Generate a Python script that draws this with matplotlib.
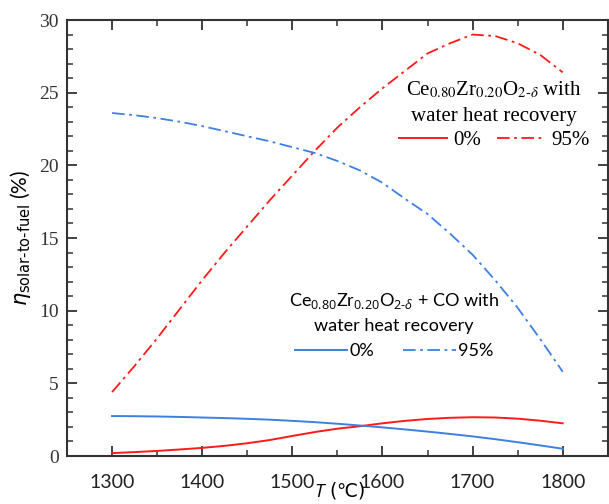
import matplotlib
matplotlib.use("Agg")
import matplotlib.pyplot as plt
from matplotlib.lines import Line2D
from matplotlib.ticker import MultipleLocator

# ---- data ----
T = [1300, 1325, 1350, 1375, 1400, 1425, 1450, 1475, 1500, 1525, 1550,
     1575, 1600, 1625, 1650, 1675, 1700, 1725, 1750, 1775, 1800]
ce_0 = [0.2, 0.27, 0.35, 0.45, 0.56, 0.7, 0.88, 1.1, 1.38, 1.65, 1.88,
        2.05, 2.25, 2.42, 2.55, 2.63, 2.67, 2.65, 2.57, 2.43, 2.25]
ce_95 = [4.4, 6.2, 8.1, 10.1, 12.1, 14.0, 15.8, 17.6, 19.3, 21.0, 22.6,
         24.0, 25.3, 26.5, 27.7, 28.4, 29.0, 28.9, 28.4, 27.6, 26.4]
co_0 = [2.75, 2.74, 2.72, 2.69, 2.65, 2.61, 2.56, 2.5, 2.42, 2.33, 2.22,
        2.1, 1.97, 1.83, 1.68, 1.52, 1.35, 1.16, 0.95, 0.73, 0.5]
co_95 = [23.6, 23.45, 23.25, 23.0, 22.7, 22.35, 22.0, 21.65, 21.25, 20.85, 20.3,
         19.65, 18.8, 17.7, 16.65, 15.3, 13.85, 12.1, 10.2, 8.05, 5.8]
x_ticks = [1300, 1400, 1500, 1600, 1700, 1800]
y_ticks = [0, 5, 10, 15, 20, 25, 30]
legend_labels = ["0%", "95%"]

plt.rcParams['font.family'] = ['Lato', 'DejaVu Sans']
plt.rcParams['mathtext.fontset'] = 'custom'
plt.rcParams['mathtext.rm'] = 'Open Sans'
plt.rcParams['mathtext.it'] = 'Open Sans:italic'

RED = '#ff1a1a'
BLUE = '#3d80e0'
DD = (0, (7, 2.5, 1.5, 2.5))

fig = plt.figure(figsize=(6.09, 5.04), dpi=100)
ax = fig.add_axes([0.110, 0.0952, 0.888, 0.8651])

ax.plot(T, ce_0, color=RED, lw=1.4)
ax.plot(T, ce_95, color=RED, lw=1.3, linestyle=DD)
ax.plot(T, co_0, color=BLUE, lw=1.4)
ax.plot(T, co_95, color=BLUE, lw=1.3, linestyle=DD)

ax.set_xlim(1250, 1850)
ax.set_ylim(0, 30)
ax.set_xticks(x_ticks)
ax.set_yticks(y_ticks)
ax.xaxis.set_minor_locator(MultipleLocator(50))
ax.yaxis.set_minor_locator(MultipleLocator(1))
ax.tick_params(which='both', direction='in', top=True, right=True, colors='#333333')
ax.tick_params(which='major', length=7, width=1.3)
ax.tick_params(which='minor', length=4, width=1.1)
ax.tick_params(axis='x', labelsize=14, labelcolor='#222222', pad=13)
ax.tick_params(axis='y', labelsize=14, labelcolor='#333333', pad=6)
for lab in ax.get_yticklabels():
    lab.set_fontfamily('Liberation Serif')
for s in ax.spines.values():
    s.set_linewidth(1.5)
    s.set_color('#333333')

ax.set_xlabel(r"$\mathit{T}$ (℃)", fontsize=13.5, fontfamily='DejaVu Sans')
ax.xaxis.set_label_coords(0.505, -0.056)
ax.set_ylabel(r"$\mathit{\eta}_{\mathrm{solar\text{-}to\text{-}fuel}}$ (%)", fontsize=15,
              labelpad=4)
ax.yaxis.label.set_math_fontfamily('dejavusans')

# upper legend (serif)
h1 = [Line2D([], [], color=RED, lw=1.4), Line2D([], [], color=RED, lw=1.3, linestyle=DD)]
leg1 = ax.legend(h1, legend_labels, ncol=2, frameon=False,
                 title="Ce$_{0.80}$Zr$_{0.20}$O$_{2\\text{-}\\delta}$ with\nwater heat recovery",
                 prop={'family': 'Liberation Serif', 'size': 15},
                 title_fontproperties={'family': 'Liberation Serif', 'size': 15},
                 handlelength=2.3, handletextpad=0.3, columnspacing=0.8,
                 loc='center', bbox_to_anchor=(0.790, 0.783), borderpad=0, labelspacing=0.2)
leg1.get_title().set_math_fontfamily('stix')
leg1.get_title().set_multialignment('center')
leg1.get_title().set_linespacing(1.5)
ax.add_artist(leg1)

# lower legend (sans)
h2 = [Line2D([], [], color=BLUE, lw=1.4), Line2D([], [], color=BLUE, lw=1.3, linestyle=DD)]
leg2 = ax.legend(h2, legend_labels, ncol=2, frameon=False,
                 title="Ce$_{0.80}$Zr$_{0.20}$O$_{2\\text{-}\\mathit{\\delta}}$ + CO with\nwater heat recovery",
                 prop={'size': 13}, title_fontproperties={'size': 13},
                 handlelength=2.9, handletextpad=0.15, columnspacing=1.6,
                 loc='center', bbox_to_anchor=(0.605, 0.300), borderpad=0)
leg2.get_title().set_multialignment('center')
leg2.get_title().set_linespacing(1.5)

fig.savefig("out.png", dpi=100)
